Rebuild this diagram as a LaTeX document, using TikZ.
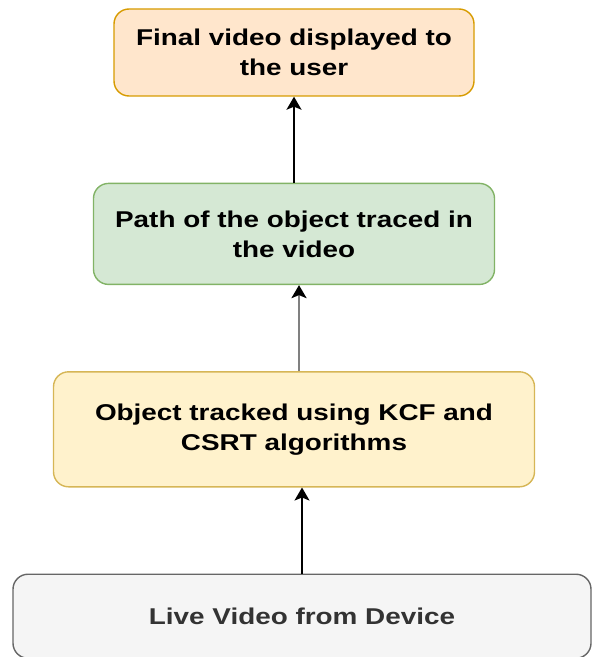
\documentclass[tikz,border=0pt]{standalone}
\usepackage{fontspec}
\setmainfont{Liberation Sans}[FakeStretch=1.22]
\usepackage{tikz}
\usetikzlibrary{positioning, arrows.meta}

\definecolor{orangefill}{HTML}{FFE6CC}
\definecolor{orangeline}{HTML}{D79B00}
\definecolor{greenfill}{HTML}{D5E8D4}
\definecolor{greenline}{HTML}{82B366}
\definecolor{yellowfill}{HTML}{FFF2CC}
\definecolor{yellowline}{HTML}{D6B656}
\definecolor{greyfill}{HTML}{F5F5F5}
\definecolor{greyline}{HTML}{666666}
\definecolor{greytext}{HTML}{333333}

\begin{document}
\begin{tikzpicture}[
  font=\fontsize{13}{17}\selectfont\bfseries,
  stage/.style={draw, line width=0.8pt, rounded corners=0.3cm, align=center, inner sep=0pt},
  >={Stealth[length=0.26cm, width=0.3cm, inset=0.06cm]},
  node distance=1.72cm,
]
\useasboundingbox (0,0) rectangle (11.86,-13.14);

\node[stage, fill=orangefill, draw=orangeline, minimum width=7.2cm, minimum height=1.74cm] (final) at (5.88,-1.05) {Final video displayed to\\the user};
\node[stage, fill=greenfill, draw=greenline, minimum width=8.02cm, minimum height=2.02cm, below=of final] (path) {Path of the object traced in\\the video};
\node[stage, fill=yellowfill, draw=yellowline, minimum width=9.62cm, minimum height=2.3cm, below=1.72cm of path] (track) {Object tracked using KCF and\\CSRT algorithms};
\node[stage, fill=greyfill, draw=greyline, text=greytext, minimum width=11.56cm, minimum height=1.68cm, below=1.72cm of track, xshift=0.16cm] (live) {Live Video from Device};

\draw[->, line width=0.9pt] (path.north) -- (final.south);
\draw[-{Stealth[length=0.26cm, width=0.3cm, inset=0.06cm, black]}, line width=1.6pt, draw=gray] ([xshift=0.1cm]track.north) -- ([xshift=0.1cm]path.south);
\draw[->, line width=0.9pt] (live.north) -- (live.north |- track.south);
\end{tikzpicture}
\end{document}
